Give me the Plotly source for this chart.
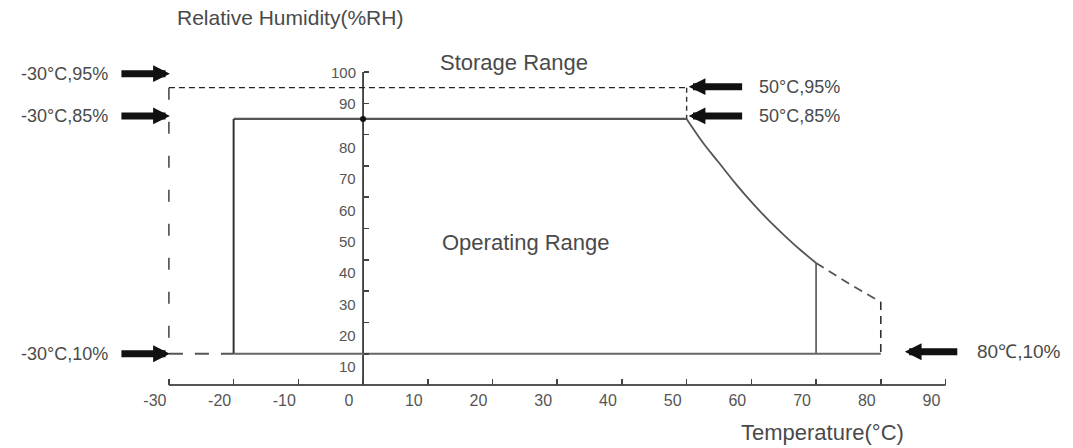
import plotly.graph_objects as go

# ---------------- data ----------------
x_tick_labels = ["-30", "-20", "-10", "0", "10", "20", "30", "40", "50", "60", "70", "80", "90"]
x_label_vals = [-30, -20, -10, 0, 10, 20, 30, 40, 50, 60, 70, 80, 90]
y_ticks = [10, 20, 30, 40, 50, 60, 70, 80, 90, 100]

# storage range (dashed)
storage_top_t = [-30, 50]
storage_top_rh = [95, 95]
storage_left_t = [-30, -30]
storage_left_rh = [95, 10]
storage_bottom_t = [-30, -20]
storage_bottom_rh = [10, 10]
storage_right_t = [50, 50]
storage_right_rh = [95, 85]

# operating range (solid)
op_top_t = [-20, 50]
op_top_rh = [85, 85]
op_left_t = [-20, -20]
op_left_rh = [85, 10]
op_bottom_t = [-20, 80]
op_bottom_rh = [10, 10]
op_curve_t = [50, 52.5, 55, 57.5, 60, 62.5, 65, 67.5, 70]
op_curve_rh = [85, 77.5, 71, 64.5, 58.5, 53, 48, 43.3, 39]
op_right_t = [70, 70]
op_right_rh = [39, 10]

# storage extension beyond 70 °C (dashed)
st_curve_t = [70, 75, 80]
st_curve_rh = [39, 32.5, 26.5]
st_end_t = [80, 80]
st_end_rh = [26.5, 10]

# axis lines
xaxis_line_t = [-30, 90]
xaxis_line_rh = [0, 0]
yaxis_line_t = [0, 0]
yaxis_line_rh = [0, 100]

# arrow labels
left_labels = ["-30°C,95%", "-30°C,85%", "-30°C,10%"]
left_label_rh = [95, 85, 10]
right_labels = ["50°C,95%", "50°C,85%"]
right_label_rh = [95, 85]
hot_label = "80℃,10%"
hot_point = (80, 10)

# ---------------- layout geometry ----------------
W, H = 1073, 448
X_RANGE = [-56.1, 109.7]
Y_RANGE = [-20.1, 123.0]
x0_frac = (0 - X_RANGE[0]) / (X_RANGE[1] - X_RANGE[0])
y0_frac = (0 - Y_RANGE[0]) / (Y_RANGE[1] - Y_RANGE[0])

FONT = "Liberation Sans, Arial, sans-serif"
TXT = "#4a4a4a"

fig = go.Figure()


def line(t, rh, color="#555555", width=2.0, dash="solid"):
    fig.add_trace(go.Scatter(x=t, y=rh, mode="lines",
                             line=dict(color=color, width=width, dash=dash),
                             hoverinfo="skip", showlegend=False))


# axes
line(xaxis_line_t, xaxis_line_rh, color="#555555", width=2)
line(yaxis_line_t, yaxis_line_rh, color="#222222", width=1.6)

# storage dashed
line(storage_top_t, storage_top_rh, color="#222222", width=1.4, dash="6px,4px")
line(storage_left_t, storage_left_rh, color="#333333", width=1.4, dash="12px,22px")
line(storage_bottom_t, storage_bottom_rh, color="#555555", width=2, dash="14px,12px")
line(storage_right_t, storage_right_rh, color="#333333", width=1.4, dash="5px,4px")

# operating solid
line(op_top_t, op_top_rh, color="#555555", width=2.2)
line(op_left_t, op_left_rh, color="#333333", width=2)
line(op_bottom_t, op_bottom_rh, color="#666666", width=2)
fig.add_trace(go.Scatter(x=op_curve_t, y=op_curve_rh, mode="lines",
                         line=dict(color="#555555", width=1.8, shape="spline"),
                         hoverinfo="skip", showlegend=False))
line(op_right_t, op_right_rh, color="#666666", width=1.8)

# dashed extension
line(st_curve_t, st_curve_rh, color="#555555", width=1.8, dash="9px,6px")
line(st_end_t, st_end_rh, color="#333333", width=1.6, dash="8px,6px")

# dot at axis / 85% intersection
fig.add_trace(go.Scatter(x=[0], y=[85], mode="markers",
                         marker=dict(color="#111111", size=6),
                         hoverinfo="skip", showlegend=False))

annotations = []

# y tick labels (shifted like in the original drawing)
for v in y_ticks:
    annotations.append(dict(x=0, y=v, xref="x", yref="y", text=str(v),
                            showarrow=False, xanchor="right", yanchor="middle",
                            xshift=-5, yshift=0 if v >= 90 else -13,
                            font=dict(family=FONT, size=15, color="#555555")))

ARROW = dict(arrowhead=2, arrowsize=0.48, arrowwidth=7, arrowcolor="#111111",
             showarrow=True, text="", axref="pixel", ayref="pixel", ay=0, standoff=0)

# left arrows + labels
for lab, rh in zip(left_labels, left_label_rh):
    ys = 14 if rh == 95 else (3 if rh == 85 else 0)
    annotations.append(dict(x=-30, y=rh, xref="x", yref="y", ax=-50,
                            xshift=1, yshift=ys, **ARROW))
    annotations.append(dict(x=-30, y=rh, xref="x", yref="y", text=lab,
                            showarrow=False, xanchor="right", yanchor="middle",
                            xshift=-59, yshift=ys,
                            font=dict(family=FONT, size=18, color=TXT)))

# right arrows + labels
for lab, rh in zip(right_labels, right_label_rh):
    ys = 1 if rh == 95 else 3
    annotations.append(dict(x=50, y=rh, xref="x", yref="y", ax=55,
                            xshift=2, yshift=ys, **ARROW))
    annotations.append(dict(x=50, y=rh, xref="x", yref="y", text=lab,
                            showarrow=False, xanchor="left", yanchor="middle",
                            xshift=70, yshift=ys,
                            font=dict(family=FONT, size=18, color=TXT)))

annotations.append(dict(x=hot_point[0], y=hot_point[1], xref="x", yref="y", ax=54,
                        xshift=24, yshift=2, **ARROW))
annotations.append(dict(x=hot_point[0], y=hot_point[1], xref="x", yref="y", text=hot_label,
                        showarrow=False, xanchor="left", yanchor="middle",
                        xshift=94, yshift=2,
                        font=dict(family=FONT, size=19, color=TXT)))

# region labels
annotations.append(dict(x=23.3, y=95, xref="x", yref="y", text="Storage Range",
                        showarrow=False, xanchor="center", yanchor="middle", yshift=25,
                        font=dict(family=FONT, size=22, color=TXT)))
annotations.append(dict(x=25.2, y=45.4, xref="x", yref="y", text="Operating Range",
                        showarrow=False, xanchor="center", yanchor="middle",
                        font=dict(family=FONT, size=22, color=TXT)))

# axis titles
annotations.append(dict(x=175 / W, y=1 - 18 / H, xref="paper", yref="paper",
                        text="Relative Humidity(%RH)", showarrow=False,
                        xanchor="left", yanchor="middle",
                        font=dict(family=FONT, size=21, color=TXT)))
annotations.append(dict(x=822 / W, y=1 - 432 / H, xref="paper", yref="paper",
                        text="Temperature(°C)", showarrow=False,
                        xanchor="center", yanchor="middle",
                        font=dict(family=FONT, size=22, color=TXT)))

fig.update_layout(
    width=W, height=H,
    margin=dict(l=0, r=0, t=0, b=0),
    paper_bgcolor="white", plot_bgcolor="white",
    showlegend=False,
    annotations=annotations,
    xaxis=dict(range=X_RANGE, anchor="free", position=y0_frac,
               showgrid=False, zeroline=False, showline=False,
               tickmode="array", tickvals=x_label_vals, ticktext=x_tick_labels,
               ticks="inside", ticklen=6, tickwidth=1.5, tickcolor="#444444",
               ticklabelshift=-14, ticklabelstandoff=4,
               tickfont=dict(family=FONT, size=16, color="#555555"),
               fixedrange=True),
    yaxis=dict(range=Y_RANGE, anchor="free", position=x0_frac,
               showgrid=False, zeroline=False, showline=False,
               tickmode="array", tickvals=y_ticks, showticklabels=False,
               ticks="inside", ticklen=5, tickwidth=1.5, tickcolor="#444444",
               fixedrange=True),
)

fig.write_html("out.html",
               config={"displayModeBar": False, "staticPlot": True},
               post_script="document.body.style.margin='0';document.body.style.overflow='hidden';")
